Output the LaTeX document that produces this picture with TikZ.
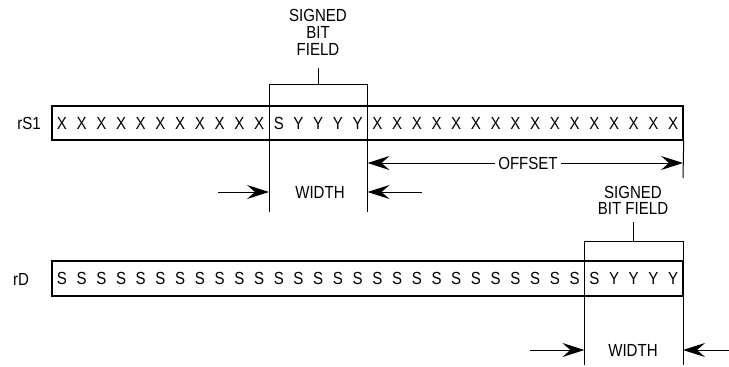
\documentclass[tikz,border=0pt]{standalone}
\usepackage{fontspec}
\setmainfont{Liberation Sans}[FakeStretch=0.86]
\usetikzlibrary{arrows.meta}

\tikzset{
  regbox/.style={draw, line width=1.4pt, inner sep=0pt, minimum height=34pt},
  bitchar/.style={inner sep=0pt},
  tick/.style={line width=1pt},
  dimarrow/.style={line width=1pt, -{Stealth[length=22pt, width=14pt, inset=8pt]}},
  fieldtext/.style={align=center, anchor=south, inner sep=0pt},
}

\begin{document}
\begin{tikzpicture}[x=1pt, y=-1pt, font=\fontsize{17.5}{17}\selectfont]
  \useasboundingbox (0,0) rectangle (729,367);
  % register names
  \node (lblrs) at (29,123) {rS1};
  \node (lblrd) at (21,279) {rD};
  % source register
  \node[regbox, minimum width=631pt] (rs) at (367.5,123) {};
  \foreach \b [count=\i from 0] in {X,X,X,X,X,X,X,X,X,X,X,S,Y,Y,Y,Y,X,X,X,X,X,X,X,X,X,X,X,X,X,X,X,X}
    \node[bitchar] (rsbit\i) at ({52+19.72*(\i+0.5)},123) {\b};
  \coordinate (rsfl) at (269,84);
  \coordinate (rsfr) at (367.5,84);
  \coordinate (rsflb) at (269,212);
  \coordinate (rsfrb) at (367.5,212);
  \coordinate (rsstub) at (318,84);
  \coordinate (rsstubtop) at (318,68);
  \coordinate (rsend) at (683,178);
  \draw[tick] (rsflb) -- (rsfl) -- (rsfr) -- (rsfrb);
  \draw[tick] (rsstub) -- (rsstubtop);
  \draw[tick] (rs.south east) -- (rsend);
  \node[fieldtext] (rssbf) at (318,56) {SIGNED\\BIT\\FIELD};
  % offset
  \node (offset) at (528,163) {OFFSET};
  \draw[dimarrow] (offset.west) -- (rsfr |- offset);
  \draw[dimarrow] (offset.east) -- (rsend |- offset);
  % width of source field
  \node (rswidth) at (320,192) {WIDTH};
  \coordinate (rswl) at (218,192);
  \coordinate (rswr) at (422,192);
  \draw[dimarrow] (rswl) -- (rsflb |- rswidth);
  \draw[dimarrow] (rswr) -- (rsfrb |- rswidth);
  % destination register
  \node[regbox, minimum width=631pt, minimum height=35pt] (rd) at (367.5,278.5) {};
  \foreach \b [count=\i from 0] in {S,S,S,S,S,S,S,S,S,S,S,S,S,S,S,S,S,S,S,S,S,S,S,S,S,S,S,S,Y,Y,Y,Y}
    \node[bitchar] (rdbit\i) at ({52+19.72*(\i+0.5)},278.5) {\b};
  \coordinate (rdfl) at (584.4,241);
  \coordinate (rdfr) at (683,241);
  \coordinate (rdflb) at (584.4,365);
  \coordinate (rdfrb) at (683,365);
  \coordinate (rdstub) at (633,241);
  \coordinate (rdstubtop) at (633,222);
  \draw[tick] (rdflb) -- (rdfl) -- (rdfr) -- (rdfrb);
  \draw[tick] (rdstub) -- (rdstubtop);
  \node[fieldtext, font=\fontsize{17.5}{16}\selectfont] (rdsbf) at (633,215) {SIGNED\\BIT FIELD};
  % width of destination field
  \node (rdwidth) at (633,350) {WIDTH};
  \coordinate (rdwl) at (530,350);
  \coordinate (rdwr) at (729,350);
  \draw[dimarrow] (rdwl) -- (rdflb |- rdwidth);
  \draw[dimarrow] (rdwr) -- (rdfrb |- rdwidth);
\end{tikzpicture}
\end{document}
